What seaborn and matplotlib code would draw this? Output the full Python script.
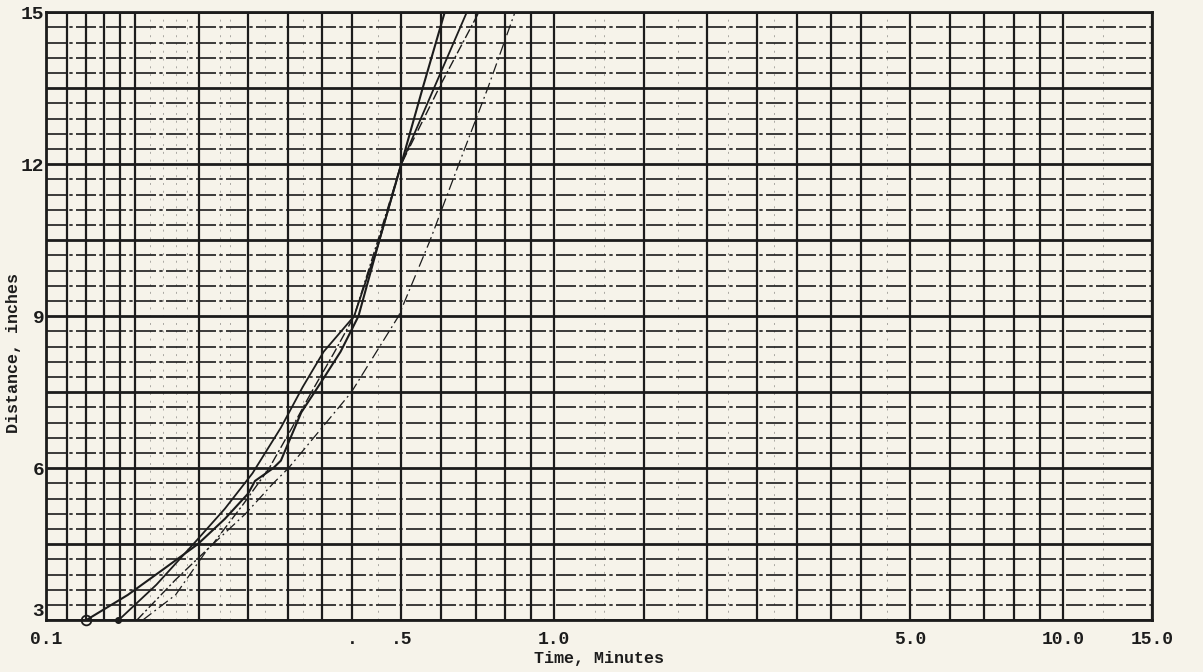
import pandas as pd
import matplotlib
matplotlib.use("Agg")
import matplotlib.pyplot as plt
import seaborn as sns
from matplotlib.ticker import FixedLocator, FuncFormatter

# Runs: time (minutes) vs distance (inches)
t_run1 = [0.120, 0.145, 0.170, 0.199, 0.225, 0.250, 0.258, 0.280, 0.290, 0.300,
          0.318, 0.348, 0.380, 0.412, 0.453, 0.500, 0.551, 0.609]
d_run1 = [3.0, 3.5, 4.0, 4.5, 5.0, 5.5, 5.75, 6.0, 6.15, 6.5,
          7.1, 7.7, 8.3, 9.0, 10.5, 12.0, 13.5, 15.0]

t_run2 = [0.139, 0.165, 0.195, 0.225, 0.255, 0.290, 0.320, 0.352, 0.404,
          0.450, 0.500, 0.580, 0.673]
d_run2 = [3.0, 3.7, 4.5, 5.2, 5.9, 6.8, 7.6, 8.3, 9.0,
          10.4, 12.0, 13.5, 15.0]

t_run3 = [0.151, 0.180, 0.213, 0.245, 0.275, 0.305, 0.333, 0.370, 0.404,
          0.450, 0.500, 0.600, 0.711]
d_run3 = [3.0, 3.8, 4.5, 5.3, 6.0, 6.8, 7.5, 8.3, 9.0,
          10.5, 12.0, 13.6, 15.0]

t_run4 = [0.155, 0.180, 0.208, 0.247, 0.280, 0.300, 0.330, 0.399, 0.494,
          0.570, 0.649, 0.740, 0.837]
d_run4 = [3.0, 3.5, 4.4, 5.1, 5.7, 6.0, 6.5, 7.5, 9.0,
          10.5, 12.0, 13.5, 15.0]

# axis labelling
x_tick_vals = [0.1, 0.4, 0.5, 1.0, 5.0, 10.0, 15.0]
x_tick_text = ["0.1", ".", ".5", "1.0", "5.0", "10.0", "15.0"]
y_tick_vals = [3, 6, 9, 12, 15]

# graph paper rulings
x_heavy = [0.1, 0.11, 0.12, 0.13, 0.14, 0.15, 0.2, 0.25, 0.3, 0.35, 0.4, 0.5,
           0.6, 0.7, 0.8, 0.9, 1.0, 1.5, 2.0, 2.5, 3.0, 3.5, 4.0, 5.0, 6.0,
           7.0, 8.0, 9.0, 10.0, 15.0]
x_light = [0.16, 0.17, 0.18, 0.19, 0.22, 0.23, 0.27, 0.32, 0.45,
           1.2, 1.25, 1.75, 2.2, 2.7, 4.5, 12.0]
y_heavy = [3 + 1.5 * i for i in range(9)]
y_light = [3 + 0.3 * i for i in range(41)]

runs = pd.concat([
    pd.DataFrame({"time": t_run1, "dist": d_run1, "run": "1"}),
    pd.DataFrame({"time": t_run2, "dist": d_run2, "run": "2"}),
    pd.DataFrame({"time": t_run3, "dist": d_run3, "run": "3"}),
    pd.DataFrame({"time": t_run4, "dist": d_run4, "run": "4"}),
])

paper = "#f6f3ea"
ink = "#1c1c1c"
mono = ["Liberation Mono", "DejaVu Sans Mono"]

sns.set_style("white")
fig = plt.figure(figsize=(12.03, 6.72), dpi=100, facecolor=paper)
ax = fig.add_axes([0.038, 0.077, 0.920, 0.905], facecolor=paper)

ax.set_xscale("log")
ax.set_xlim(0.1, 15.0)
ax.set_ylim(3, 15)

# rulings through tick locators
ax.xaxis.set_major_locator(FixedLocator(x_heavy))
ax.xaxis.set_minor_locator(FixedLocator(x_light))
ax.yaxis.set_major_locator(FixedLocator(y_heavy))
ax.yaxis.set_minor_locator(FixedLocator(y_light))
ax.grid(True, axis="x", which="major", color=ink, lw=1.6)
ax.grid(True, axis="x", which="minor", color=ink, lw=0.7, ls=(0, (2, 6)), alpha=0.35)
ax.grid(True, axis="y", which="major", color=ink, lw=2.0)
ax.grid(True, axis="y", which="minor", color=ink, lw=1.2, ls=(0, (12, 2, 2, 2)))

xlab = dict(zip(x_tick_vals, x_tick_text))
ax.xaxis.set_major_formatter(FuncFormatter(lambda v, p: xlab.get(round(v, 3), "")))
ax.xaxis.set_minor_formatter(FuncFormatter(lambda v, p: ""))
ax.yaxis.set_major_formatter(FuncFormatter(lambda v, p: f"{v:.0f}" if v in y_tick_vals else ""))
ax.yaxis.set_minor_formatter(FuncFormatter(lambda v, p: ""))
ax.tick_params(which="both", length=0)
ax.tick_params(axis="x", pad=8)
ax.tick_params(axis="y", pad=1)
for lab in ax.get_xticklabels() + ax.get_yticklabels():
    lab.set_family(mono)
    lab.set_fontsize(13)
    lab.set_fontweight("bold")
    lab.set_color(ink)
for lab in ax.get_yticklabels():
    lab.set_fontsize(14)
    lab.set_verticalalignment("bottom" if lab.get_text() == "3" else "center_baseline")

for s in ax.spines.values():
    s.set_color(ink)
    s.set_linewidth(2)

# the four runs
styles = {"1": (1.5, "-"), "2": (1.3, "-"), "3": (1.0, (0, (7, 2, 1.5, 2))), "4": (0.9, (0, (9, 3, 1.5, 3)))}
for run, grp in runs.groupby("run"):
    lw, ls = styles[run]
    sns.lineplot(data=grp, x="time", y="dist", sort=False, estimator=None,
                 color=ink, lw=lw, linestyle=ls, ax=ax, legend=False)

# start markers
ax.plot(t_run1[0], d_run1[0], marker="o", ms=7, mfc="none", mec=ink, mew=1.3, clip_on=False)
ax.plot(t_run2[0], d_run2[0], marker="o", ms=4, color=ink, clip_on=False)

ax.set_xlabel("Time, Minutes", family=mono, fontsize=12, fontweight="bold", color=ink, labelpad=2)
ax.set_ylabel("Distance, inches", family=mono, fontsize=12, fontweight="bold", color=ink)
ax.yaxis.set_label_coords(-0.022, 0.44)

fig.savefig("out.png", dpi=100, facecolor=paper)
